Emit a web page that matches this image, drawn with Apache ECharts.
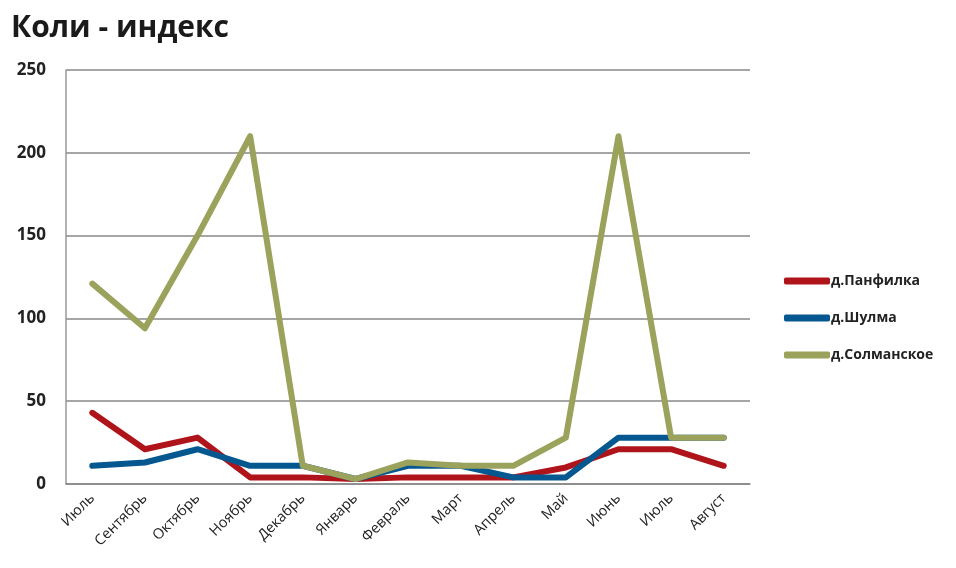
<!DOCTYPE html>
<html>
<head>
<meta charset="utf-8">
<script src="https://cdn.jsdelivr.net/npm/echarts@6/dist/echarts.min.js"></script>
<style>
  html, body { margin: 0; padding: 0; background: #fff; }
  #chart { width: 956px; height: 568px; }
</style>
</head>
<body>
<div id="chart"></div>
<script>
var months = ['Июль', 'Сентябрь', 'Октябрь', 'Ноябрь', 'Декабрь', 'Январь', 'Февраль', 'Март', 'Апрель', 'Май', 'Июнь', 'Июль', 'Август'];
var panfilka = [43, 21, 28, 4, 4, 3, 4, 4, 4, 10, 21, 21, 11];
var shulma = [11, 13, 21, 11, 11, 3, 11, 11, 4, 4, 28, 28, 28];
var solmanskoe = [121, 94, 150, 210, 11, 3, 13, 11, 11, 28, 210, 28, 28];

var font = '"Open Sans", "DejaVu Sans", sans-serif';

var myChart = echarts.init(document.getElementById('chart'));
var option = {
    animation: false,
    title: {
        text: 'Коли - индекс',
        left: 6,
        top: 8,
        textStyle: { fontFamily: font, fontSize: 30, fontWeight: 'bold', color: '#1a1a1a' }
    },
    legend: {
        orient: 'vertical',
        left: 779,
        top: 269,
        itemWidth: 46,
        itemHeight: 7,
        itemGap: 23,
        icon: 'roundRect',
        textStyle: { fontFamily: font, fontSize: 14, fontWeight: 'bold', color: '#222', padding: [0, 0, 0, -4] },
        data: ['д.Панфилка', 'д.Шулма', 'д.Солманское']
    },
    grid: { left: 66, right: 206, top: 70, bottom: 84 },
    xAxis: {
        type: 'category',
        data: months,
        boundaryGap: true,
        axisLine: { lineStyle: { color: '#888', width: 1.5 } },
        axisTick: { show: false },
        axisLabel: { rotate: 45, interval: 0, margin: 12, fontFamily: font, fontSize: 14.5, color: '#222' }
    },
    yAxis: {
        type: 'value',
        min: 0,
        max: 250,
        interval: 50,
        axisLine: { show: true, lineStyle: { color: '#999', width: 1.5 } },
        axisTick: { show: false },
        splitLine: { lineStyle: { color: '#888', width: 1.5 } },
        axisLabel: { margin: 20, fontFamily: font, fontSize: 17, fontWeight: 'bold', color: '#222' }
    },
    series: [
        {
            name: 'д.Панфилка', type: 'line', data: panfilka, symbol: 'none',
            color: '#B0141B', lineStyle: { width: 6, color: '#B0141B', cap: 'round', join: 'round' }
        },
        {
            name: 'д.Шулма', type: 'line', data: shulma, symbol: 'none',
            color: '#04588F', lineStyle: { width: 6, color: '#04588F', cap: 'round', join: 'round' }
        },
        {
            name: 'д.Солманское', type: 'line', data: solmanskoe, symbol: 'none',
            color: '#9AA25C', lineStyle: { width: 6, color: '#9AA25C', cap: 'round', join: 'round' }
        }
    ]
};
myChart.setOption(option);
</script>
</body>
</html>
